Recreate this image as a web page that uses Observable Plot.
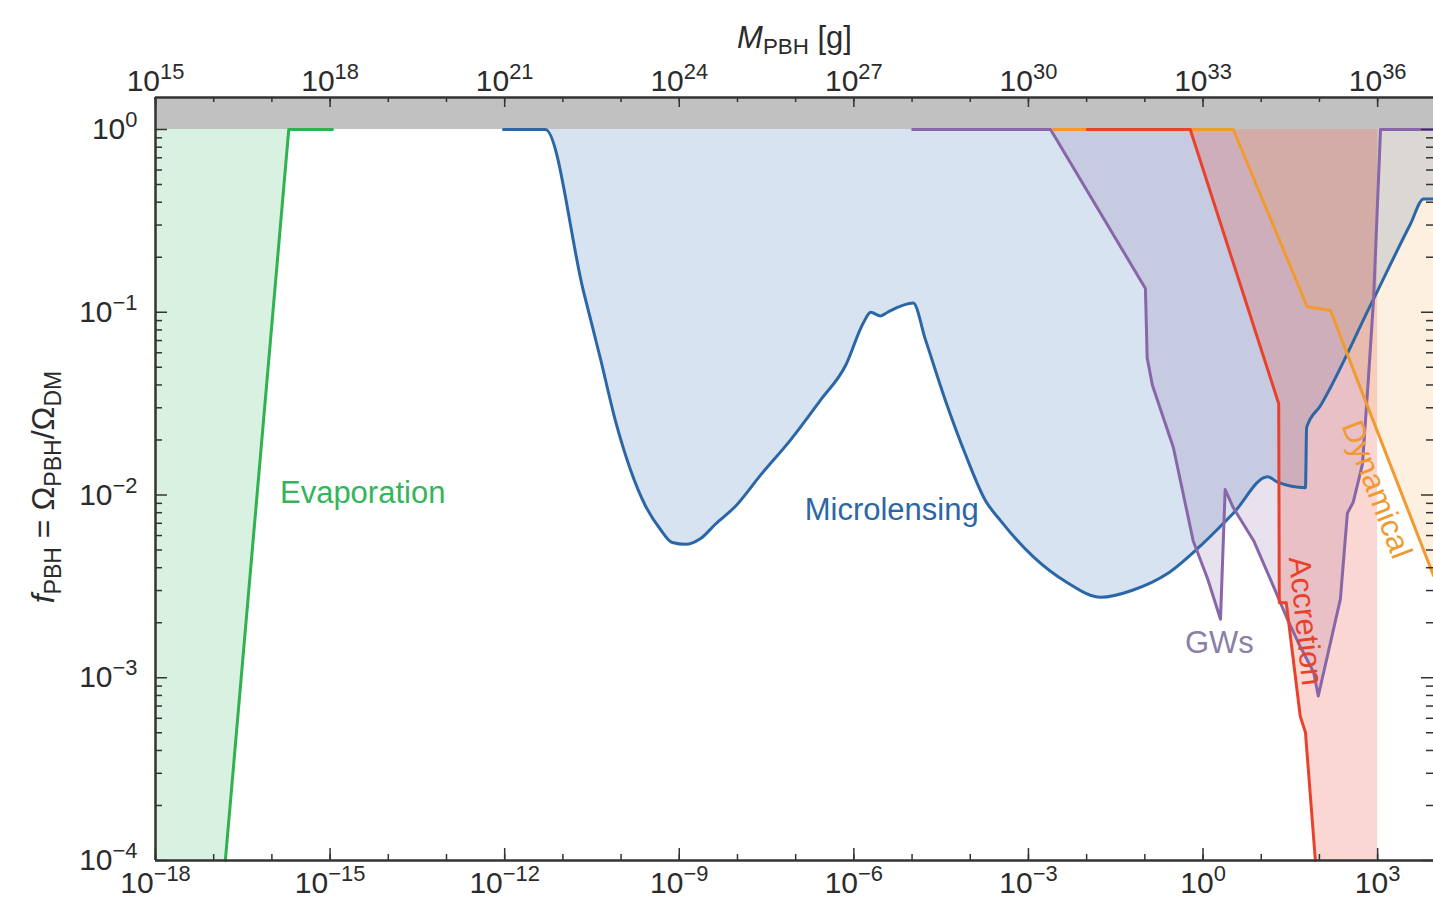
<!DOCTYPE html>
<html><head><meta charset="utf-8">
<script src="https://cdn.jsdelivr.net/npm/d3@7"></script>
<script src="https://cdn.jsdelivr.net/npm/@observablehq/plot@0.6"></script>
<style>
html,body{margin:0;padding:0;background:#fff;overflow:hidden;}
#chart{width:1433px;height:914px;overflow:hidden;}
</style></head><body><div id="chart"></div>
<script>
// ---- data (log10 of M_PBH in solar masses, log10 of f_PBH) ----
const evapLogM = [-16.80, -15.71, -14.96];
const evapLogF = [-4, 0, 0];

const microLogM = [-12.02,-11.30,-10.65,-10.35,-10.10,-9.84,-9.58,-9.32,-9.12,-8.89,-8.64,-8.38,-8.03,-7.60,-7.09,-6.57,-6.14,-5.84,-5.71,-5.54,-5.42,-4.98,-4.77,-4.43,-4.08,-3.74,-3.48,-2.91,-2.33,-1.76,-1.20,-0.61,-0.05,0.52,1.11,1.28,1.76,1.78,2.02,2.88,3.56,3.79,3.96];
const microLogF = [0,0,-0.88,-1.26,-1.59,-1.86,-2.06,-2.19,-2.26,-2.27,-2.24,-2.16,-2.06,-1.89,-1.70,-1.48,-1.29,-1.06,-1.00,-1.02,-1.00,-0.95,-1.15,-1.48,-1.78,-2.03,-2.14,-2.34,-2.48,-2.56,-2.52,-2.43,-2.28,-2.10,-1.90,-1.93,-1.96,-1.63,-1.51,-0.96,-0.52,-0.38,-0.38];

const gwLogM = [-4.99,-2.62,-0.99,-0.96,-0.87,-0.51,-0.17,0.08,0.30,0.38,0.52,0.87,1.21,1.45,1.67,1.90,1.98,2.36,2.48,2.58,2.74,2.84,2.93,3.00,3.05,3.96];
const gwLogF = [0,0,-0.87,-1.25,-1.40,-1.74,-2.25,-2.46,-2.68,-1.97,-2.07,-2.25,-2.50,-2.68,-2.83,-2.97,-3.10,-2.57,-2.10,-2.04,-1.83,-1.37,-0.93,-0.39,0,0];

const accLogM = [-1.99,-0.22,1.28,1.30,1.31,1.43,1.45,1.50,1.67,1.76,1.93];
const accLogF = [0,0,-1.48,-1.50,-2.59,-2.59,-2.64,-2.77,-3.21,-3.30,-4];
const accEndLogM = 3.0;

const dynLogM = [-2.57,0.52,1.79,2.19,2.65,3.96];
const dynLogF = [0,0,-0.97,-0.99,-1.37,-2.44];

const labelText = ["Evaporation","Microlensing","GWs","Accretion","Dynamical"];
const labelLogM = [-14.44,-5.35,0.28,1.76,2.98];
const labelLogF = [-1.99,-2.08,-2.81,-2.69,-1.97];
const labelAngle = [0,0,0,84,69];
const labelColor = ["#35b55a","#2b67a6","#8a7fa6","#e8422c","#f09a30"];

const xMajorExp = [-18,-15,-12,-9,-6,-3,0,3];
const xMinorExp = [-18,-17,-16,-15,-14,-13,-12,-11,-10,-9,-8,-7,-6,-5,-4,-3,-2,-1,0,1,2,3];
const yMajorExp = [-4,-3,-2,-1,0];
const yMinorMult = [2,3,4,5,6,7,8,9];
const gramOffset = 33;

// ---- helpers ----
const p10 = e => +("1e" + e);
const rows = (lm, lf) => lm.map((m, i) => ({M: 10 ** m, f: 10 ** lf[i]}));
const X_MIN = p10(-18), X_MAX = 10 ** 3.96, Y_MIN = p10(-4), Y_MAX = 10 ** 0.175;
const fmtExp = e => (e < 0 ? "\u2212" + (-e) : "" + e);

const evap = rows(evapLogM, evapLogF);
const micro = rows(microLogM, microLogF);
const gw = rows(gwLogM, gwLogF);
const acc = rows(accLogM, accLogF);
const dyn = rows(dynLogM, dynLogF);
const evapArea = [{M: X_MIN, f: Y_MIN}, ...evap];
const accArea = [...acc, {M: 10 ** accEndLogM, f: Y_MIN}];

const xMajor = xMajorExp.map(p10);
const xMinor = xMinorExp.map(p10);
const yMajor = yMajorExp.map(p10);
const yMinor = yMajorExp.slice(0, -1).flatMap(e => yMinorMult.map(k => k * p10(e)));

const W = 1433, H = 914, ML = 155, MR = 0, MT = 97, MB = 54;
const iw = W - ML - MR, ih = H - MT - MB;
const axisColor = "#333";
const tickFont = 30, labelFont = 31;

const C = {
  green: "#2fb24f", greenFill: "#3cb86a",
  blue: "#2b67a6", blueFill: "#3573b5",
  purple: "#8767a8", purpleFill: "#7d5fa8",
  red: "#e8422c", redFill: "#ea4a30",
  orange: "#f09a30", orangeFill: "#f5a040"
};

const labels = labelText.map((t, i) => ({t, M: 10 ** labelLogM[i], f: 10 ** labelLogF[i], a: labelAngle[i], c: labelColor[i]}));

const chart = Plot.plot({
  width: W, height: H,
  marginLeft: ML, marginRight: MR, marginTop: MT, marginBottom: MB,
  x: {type: "log", domain: [X_MIN, X_MAX]},
  y: {type: "log", domain: [Y_MIN, Y_MAX]},
  style: {fontFamily: "'Liberation Sans', Arial, Helvetica, sans-serif", background: "white", color: "#2b2b2b"},
  marks: [
    Plot.rect([0], {x1: X_MIN, x2: X_MAX, y1: 1, y2: Y_MAX, fill: "#c1c1c1"}),
    // shaded regions
    Plot.areaY(micro, {x: "M", y1: "f", y2: 1, fill: C.blueFill, fillOpacity: 0.2, curve: "monotone-x"}),
    Plot.areaY(gw, {x: "M", y1: "f", y2: 1, fill: C.purpleFill, fillOpacity: 0.18}),
    Plot.areaY(accArea, {x: "M", y1: "f", y2: 1, fill: C.redFill, fillOpacity: 0.22}),
    Plot.areaY(dyn, {x: "M", y1: "f", y2: 1, fill: C.orangeFill, fillOpacity: 0.16}),
    Plot.areaY(evapArea, {x: "M", y1: "f", y2: 1, fill: C.greenFill, fillOpacity: 0.2}),
    // boundary lines
    Plot.line(micro, {x: "M", y: "f", stroke: C.blue, strokeWidth: 3, curve: "monotone-x"}),
    Plot.line(gw, {x: "M", y: "f", stroke: C.purple, strokeWidth: 3}),
    Plot.line(dyn, {x: "M", y: "f", stroke: C.orange, strokeWidth: 3}),
    Plot.line(acc, {x: "M", y: "f", stroke: C.red, strokeWidth: 3}),
    Plot.line(evap, {x: "M", y: "f", stroke: C.green, strokeWidth: 3}),
    // inward ticks
    Plot.tickX(xMinor, {x: d => d, insetTop: ih - 6, stroke: axisColor, strokeWidth: 1.5}),
    Plot.tickX(xMajor, {x: d => d, insetTop: ih - 12, stroke: axisColor, strokeWidth: 1.5}),
    Plot.tickX(xMinor, {x: d => d, insetBottom: ih - 5, stroke: axisColor, strokeWidth: 1.5}),
    Plot.tickX(xMajor, {x: d => d, insetBottom: ih - 10, stroke: axisColor, strokeWidth: 1.5}),
    Plot.tickY(yMinor, {y: d => d, insetRight: iw - 7, stroke: axisColor, strokeWidth: 1.5}),
    Plot.tickY(yMajor, {y: d => d, insetRight: iw - 12, stroke: axisColor, strokeWidth: 1.5}),
    Plot.tickY(yMinor, {y: d => d, insetLeft: iw - 7, stroke: axisColor, strokeWidth: 1.5}),
    Plot.tickY(yMajor, {y: d => d, insetLeft: iw - 12, stroke: axisColor, strokeWidth: 1.5}),
    // frame
    Plot.ruleX([X_MIN], {stroke: axisColor, strokeWidth: 2.5}),
    Plot.ruleY([Y_MIN], {stroke: axisColor, strokeWidth: 2.5}),
    Plot.ruleY([Y_MAX], {stroke: axisColor, strokeWidth: 2.5}),
    // axes labels
    Plot.axisX(xMajor, {anchor: "bottom", tickSize: 0, tickPadding: 11, fontSize: tickFont, label: null,
      tickFormat: d => `10{sup:${fmtExp(Math.round(Math.log10(d)))}}`}),
    Plot.axisX(xMajor, {anchor: "top", tickSize: 0, tickPadding: 7, fontSize: tickFont, label: null,
      tickFormat: d => `10{sup:${fmtExp(Math.round(Math.log10(d)) + gramOffset)}}`}),
    Plot.axisY(yMajor, {anchor: "left", tickSize: 0, tickPadding: 18, fontSize: tickFont, label: null,
      tickFormat: d => `10{sup:${fmtExp(Math.round(Math.log10(d)))}}`}),
    // titles
    Plot.text(["{i:M}{sub:PBH} [g]"], {frameAnchor: "top", dy: -72, fontSize: labelFont, text: d => d}),
    Plot.text(["{i:f}{sub:PBH} = \u03A9{sub:PBH}/\u03A9{sub:DM}"], {frameAnchor: "left", textAnchor: "middle", dx: -112, dy: 8, rotate: -90, fontSize: 32, text: d => d}),
    // region labels
    ...labels.map(l => Plot.text([l], {x: "M", y: "f", text: "t", rotate: "a", fill: l.c, fontSize: labelFont}))
  ]
});

document.getElementById("chart").appendChild(chart);

// rich text: {sup:..}, {sub:..}, {i:..}
const NS = "http://www.w3.org/2000/svg";
chart.querySelectorAll("text").forEach(t => {
  const s = t.textContent;
  if (!s.includes("{")) return;
  const fs = parseFloat(getComputedStyle(t).fontSize) || 28;
  const parts = s.split(/(\{[a-z]+:[^}]*\})/).filter(p => p !== "");
  while (t.firstChild) t.removeChild(t.firstChild);
  let cur = 0;
  for (const p of parts) {
    const m = p.match(/^\{([a-z]+):([^}]*)\}$/);
    const kind = m ? m[1] : "n", str = m ? m[2] : p;
    const ts = document.createElementNS(NS, "tspan");
    let target = 0;
    if (kind === "sup") { target = -0.40 * fs; ts.setAttribute("font-size", 0.73 * fs); }
    else if (kind === "sub") { target = 0.22 * fs; ts.setAttribute("font-size", 0.72 * fs); }
    else if (kind === "i") { ts.setAttribute("font-style", "italic"); }
    if (target !== cur) { ts.setAttribute("dy", target - cur); cur = target; }
    ts.textContent = str;
    t.appendChild(ts);
  }
});
</script></body></html>
